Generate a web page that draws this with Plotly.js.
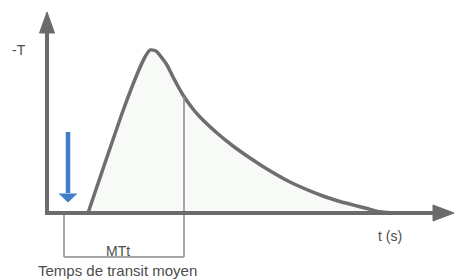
<!DOCTYPE html>
<html>
<head>
<meta charset="utf-8">
<script src="https://cdn.plot.ly/plotly-3.0.1.min.js"></script>
<style>html,body{margin:0;padding:0;background:#fff;}#chart{width:455px;height:279px;}</style>
</head>
<body>
<div id="chart"></div>
<script>
// Time (s, arbitrary units) and -T signal
var timeValues = [4.1, 5.9, 7.7, 9.1, 9.8, 10.3, 10.9, 11.5, 12.0, 12.6, 13.6, 14.6, 15.3, 17.0, 18.6, 20.3, 22.0, 24.3, 27.6, 29.3, 31.0, 32.0, 33.3, 34.5];
var signalValues = [0, 5.3, 10.5, 14.1, 15.6, 16.3, 16.2, 15.5, 14.8, 13.6, 11.8, 10.4, 9.6, 8.0, 6.7, 5.5, 4.4, 3.1, 1.7, 1.15, 0.7, 0.45, 0.12, 0];
var injectionTime = 2.1;
var mttTime = 13.7;
var mttStart = 1.7;
var labels = {y: "-T", x: "t (s)", mtt: "MTt", mttLong: "Temps de transit moyen"};

var axisColor = "#6b6b6b";
var curveColor = "#6e6e6e";
var blue = "#3f7ec8";
var txtColor = "#4d4d4d";

function valueAt(t){
  for (var i=0;i<timeValues.length-1;i++){
    if (t>=timeValues[i] && t<=timeValues[i+1]){
      var f=(t-timeValues[i])/(timeValues[i+1]-timeValues[i]);
      return signalValues[i]+f*(signalValues[i+1]-signalValues[i]);
    }
  }
  return 0;
}
var mttVal = valueAt(mttTime);
var bracketY = -4.4;
var xHeadBase = 38.6, xHeadTip = 40.7, xHeadHalf = 0.8;
var yHeadBase = 18.0, yHeadTip = 20.1, yHeadHalf = 0.75;
var arrowTop = 8.1, arrowHeadBase = 1.9, arrowTip = 1.1, arrowHalf = 0.85;

var trace = {
  x: timeValues, y: signalValues, type: "scatter", mode: "lines",
  line: {color: curveColor, width: 3.5, shape: "spline", smoothing: 0.6},
  fill: "tozeroy", fillcolor: "#f8faf8", hoverinfo: "skip"
};

var shapes = [
  {type:"line", xref:"x", yref:"y", x0:mttTime, x1:mttTime, y0:mttVal, y1:bracketY, line:{color:"#8a8a8a", width:1.5}},
  {type:"line", xref:"x", yref:"y", x0:mttStart, x1:mttStart, y0:0, y1:bracketY, line:{color:"#8a8a8a", width:1.5}},
  {type:"line", xref:"x", yref:"y", x0:mttStart, x1:mttTime, y0:bracketY, y1:bracketY, line:{color:"#8a8a8a", width:1.5}},
  {type:"line", xref:"x", yref:"y", x0:-0.2, x1:xHeadBase+0.2, y0:0, y1:0, line:{color:axisColor, width:4}},
  {type:"path", xref:"x", yref:"y", path:"M "+xHeadBase+" "+xHeadHalf+" L "+xHeadTip+" 0 L "+xHeadBase+" "+(-xHeadHalf)+" Z", fillcolor:axisColor, line:{color:axisColor, width:1}},
  {type:"line", xref:"x", yref:"y", x0:0, x1:0, y0:-0.2, y1:yHeadBase+0.2, line:{color:axisColor, width:4}},
  {type:"path", xref:"x", yref:"y", path:"M "+(-yHeadHalf)+" "+yHeadBase+" L 0 "+yHeadTip+" L "+yHeadHalf+" "+yHeadBase+" Z", fillcolor:axisColor, line:{color:axisColor, width:1}},
  {type:"line", xref:"x", yref:"y", x0:injectionTime, x1:injectionTime, y0:arrowTop, y1:arrowHeadBase+0.1, line:{color:blue, width:4.5}},
  {type:"path", xref:"x", yref:"y", path:"M "+(injectionTime-arrowHalf)+" "+arrowHeadBase+" L "+injectionTime+" "+arrowTip+" L "+(injectionTime+arrowHalf)+" "+arrowHeadBase+" Z", fillcolor:blue, line:{color:blue, width:1}}
];

var font = {family:"Liberation Sans, Arial, sans-serif", size:14, color:txtColor};
var annotations = [
  {x:-2.85, y:16.3, text:labels.y, showarrow:false, font:font},
  {x:34.3, y:-2.3, text:labels.x, showarrow:false, font:font},
  {x:7.05, y:-3.75, text:labels.mtt, showarrow:false, font:font},
  {x:7.05, y:-5.7, text:labels.mttLong, showarrow:false, font:{family:font.family, size:15, color:txtColor}}
];

var layout = {
  width:455, height:279,
  margin:{l:0, r:0, t:0, b:0},
  paper_bgcolor:"#ffffff", plot_bgcolor:"#ffffff",
  showlegend:false,
  xaxis:{range:[-4.7, 40.8], visible:false, fixedrange:true},
  yaxis:{range:[-6.6, 21.3], visible:false, fixedrange:true},
  shapes:shapes, annotations:annotations
};
Plotly.newPlot("chart", [trace], layout, {displayModeBar:false, staticPlot:true});
</script>
</body>
</html>
